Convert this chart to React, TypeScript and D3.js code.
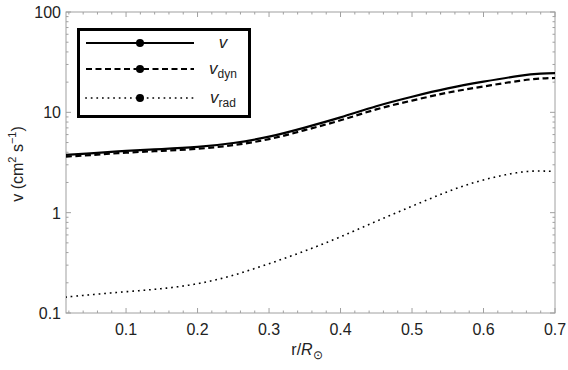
import React from "react";
import * as d3 from "d3";

const rValues = [0.016, 0.05, 0.1, 0.15, 0.2, 0.25, 0.3, 0.35, 0.4, 0.45, 0.5, 0.55, 0.6, 0.65, 0.68, 0.7];
const vTotal = [3.76, 3.9, 4.12, 4.3, 4.52, 4.95, 5.72, 7.05, 8.9, 11.5, 14.3, 17.3, 20.2, 23.1, 24.3, 24.6];
const vDyn = [3.62, 3.75, 3.96, 4.13, 4.33, 4.71, 5.41, 6.64, 8.33, 10.7, 13.1, 15.7, 18.1, 20.6, 21.7, 22.0];
const vRad = [0.144, 0.152, 0.163, 0.175, 0.196, 0.238, 0.31, 0.415, 0.575, 0.82, 1.16, 1.62, 2.12, 2.52, 2.6, 2.58];

const xTicks = [0.1, 0.2, 0.3, 0.4, 0.5, 0.6, 0.7];
const yTicks = [0.1, 1, 10, 100];
const yTickLabels = ["0.1", "1", "10", "100"];

const W = 568, H = 370;
const L = 66, R = 555, T = 12, B = 313;
const FRAME = "#a0a0a0";
const TXT = "#222";

export default function App() {
  const x = d3.scaleLinear().domain([0.016, 0.7]).range([L, R]);
  const y = d3.scaleLog().domain([0.1, 100]).range([B, T]);

  const mk = (vals: number[]) =>
    d3
      .line<number>()
      .x((_, i) => x(rValues[i]))
      .y((d) => y(d))
      .curve(d3.curveNatural)(vals) as string;

  const xMinor = d3.range(0.02, 0.7001, 0.02).filter((v) => v >= 0.016);
  const yMinor: number[] = [];
  [0.1, 1, 10].forEach((dec) => {
    for (let k = 2; k <= 9; k++) yMinor.push(dec * k);
  });

  const isMajorX = (v: number) => xTicks.some((t) => Math.abs(t - v) < 1e-6);

  const series = [
    { vals: vTotal, dash: undefined as string | undefined, lab: "v", sub: "", cap: "butt" },
    { vals: vDyn, dash: "6,3.5", lab: "v", sub: "dyn", cap: "butt" },
    { vals: vRad, dash: "0.1,5.5", lab: "v", sub: "rad", cap: "square" },
  ];
  const legY = [43, 69, 98];

  return (
    <svg width={W} height={H} style={{ position: "absolute", left: 0, top: 0, background: "#fff" }}
      fontFamily="'Liberation Sans', Arial, sans-serif">
      <rect x={0} y={0} width={W} height={H} fill="#fff" />
      <defs>
        <clipPath id="plotclip">
          <rect x={L} y={T} width={R - L} height={B - T} />
        </clipPath>
      </defs>
      {/* frame */}
      <rect x={L} y={T} width={R - L} height={B - T} fill="none" stroke={FRAME} strokeWidth={1} />
      {/* x ticks */}
      {xMinor.map((v, i) => {
        const len = isMajorX(v) ? 5 : 2.5;
        return (
          <g key={"xm" + i} stroke={FRAME} strokeWidth={1}>
            <line x1={x(v)} x2={x(v)} y1={B} y2={B - len} />
            <line x1={x(v)} x2={x(v)} y1={T} y2={T + len} />
          </g>
        );
      })}
      {/* y ticks */}
      {yTicks.map((v, i) => (
        <g key={"yM" + i} stroke={FRAME} strokeWidth={1}>
          <line x1={L} x2={L + 5} y1={y(v)} y2={y(v)} />
          <line x1={R} x2={R - 5} y1={y(v)} y2={y(v)} />
        </g>
      ))}
      {yMinor.map((v, i) => (
        <g key={"ym" + i} stroke={FRAME} strokeWidth={1}>
          <line x1={L} x2={L + 2.5} y1={y(v)} y2={y(v)} />
          <line x1={R} x2={R - 2.5} y1={y(v)} y2={y(v)} />
        </g>
      ))}
      {/* tick labels */}
      {xTicks.map((v, i) => (
        <text key={"xl" + i} x={x(v)} y={B + 22} textAnchor="middle" fontSize={16} fill={TXT}>
          {v.toFixed(1)}
        </text>
      ))}
      {yTicks.map((v, i) => (
        <text key={"yl" + i} x={L - 5} y={y(v) + 6} textAnchor="end" fontSize={16} fill={TXT}>
          {yTickLabels[i]}
        </text>
      ))}
      {/* axis labels */}
      <text x={307} y={355} textAnchor="middle" fontSize={16} fill={TXT}>
        r/<tspan fontStyle="italic">R</tspan>
        <tspan fontSize={12} dy={4}>⊙</tspan>
      </text>
      <text transform="translate(23,164) rotate(-90)" textAnchor="middle" fontSize={16} fill={TXT}>
        v (cm<tspan fontSize={11} dy={-7}>2</tspan>
        <tspan dy={7}> s</tspan>
        <tspan fontSize={11} dy={-7}>−1</tspan>
        <tspan dy={7}>)</tspan>
      </text>
      {/* curves */}
      <g clipPath="url(#plotclip)">
        {series.map((s, i) => (
          <path key={"c" + i} d={mk(s.vals)} fill="none" stroke="#000"
            strokeWidth={i === 2 ? 1.6 : 2.2} strokeDasharray={s.dash}
            strokeLinecap={s.cap as any} />
        ))}
      </g>
      {/* legend */}
      <rect x={78.5} y={29.5} width={171} height={87} fill="#fff" stroke="#000" strokeWidth={3} />
      {series.map((s, i) => (
        <g key={"lg" + i}>
          <line x1={86} x2={194} y1={legY[i]} y2={legY[i]} stroke="#000"
            strokeWidth={i === 2 ? 1.6 : 2.2} strokeDasharray={s.dash} strokeLinecap={s.cap as any} />
          <circle cx={140} cy={legY[i]} r={4} fill="#000" />
          <text x={223} y={legY[i] + 5} textAnchor="middle" fontSize={17} fill={TXT}>
            <tspan fontStyle="italic">{s.lab}</tspan>
            {s.sub ? <tspan fontSize={12} dy={4}>{s.sub}</tspan> : null}
          </text>
        </g>
      ))}
    </svg>
  );
}
